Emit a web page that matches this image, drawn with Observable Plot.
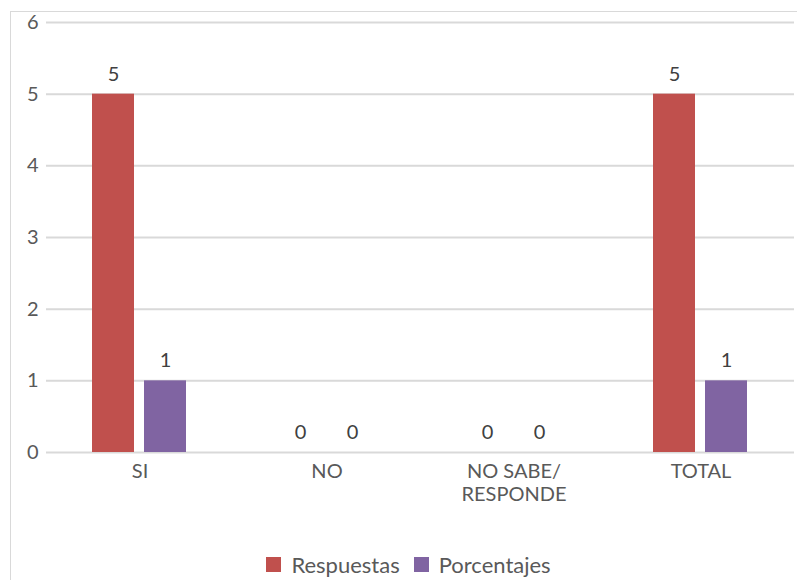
<!DOCTYPE html>
<html>
<head>
<meta charset="utf-8">
<script src="https://cdn.jsdelivr.net/npm/d3@7"></script>
<script src="https://cdn.jsdelivr.net/npm/@observablehq/plot@0.6"></script>
<style>
  html, body { margin: 0; padding: 0; background: #fff; overflow: hidden; width: 797px; height: 580px; }
  #frame { position: absolute; left: 10px; top: 11px; width: 800px; height: 600px; border: 1px solid #d9d9d9; box-sizing: border-box; }
  #chart { position: absolute; left: 0; top: 0; }
  #legend { position: absolute; left: 10px; top: 550px; width: 797px; text-align: center; font-family: Lato, "Noto Sans", sans-serif; font-size: 22px; line-height: 28px; color: #595959; }
  .item { display: inline-flex; align-items: center; margin: 0 7px; }
  .sw { display: inline-block; width: 15px; height: 15px; margin-right: 10px; }
</style>
</head>
<body>
<div id="frame"></div>
<div id="chart"></div>
<div id="legend"></div>
<script>
const categories = ["SI", "NO", "NO SABE/\nRESPONDE", "TOTAL"];
const series = ["Respuestas", "Porcentajes"];
const respuestas = [5, 0, 0, 5];
const porcentajes = [1, 0, 0, 1];
const yTicks = [0, 1, 2, 3, 4, 5, 6];
const colors = ["#C0504D", "#8064A2"];

const data = [];
categories.forEach((c, i) => {
  data.push({cat: c, serie: series[0], value: respuestas[i]});
  data.push({cat: c, serie: series[1], value: porcentajes[i]});
});

const font = 'Lato, "Noto Sans", sans-serif';
const chart = Plot.plot({
  width: 797,
  height: 540,
  marginLeft: 45,
  marginRight: 3,
  marginTop: 22,
  marginBottom: 88,
  style: {fontFamily: font, fontSize: "20px", color: "#595959", background: "transparent"},
  fx: {domain: categories, paddingInner: 0, paddingOuter: 0, label: null},
  x: {domain: series, paddingInner: 0.189, paddingOuter: 0.863, axis: null},
  y: {domain: [0, 6], ticks: yTicks, label: null},
  color: {domain: series, range: colors},
  marks: [
    Plot.ruleY(yTicks, {stroke: "#d9d9d9", strokeWidth: 2}),
    Plot.barY(data, {fx: "cat", x: "serie", y: "value", fill: "serie"}),
    Plot.text(data, {fx: "cat", x: "serie", y: "value", text: d => String(d.value), dy: -20, fill: "#404040", fontSize: 20}),
    Plot.axisY(yTicks, {tickSize: 0, tickPadding: 8, fontSize: 20, fill: "#595959", tickFormat: "d"}),
    Plot.axisFx({anchor: "bottom", tickSize: 0, tickPadding: 10, fontSize: 20, fill: "#595959", label: null, lineHeight: 1.12})
  ]
});
document.getElementById("chart").appendChild(chart);

const legend = document.getElementById("legend");
series.forEach((s, i) => {
  const item = document.createElement("span");
  item.className = "item";
  const sw = document.createElement("span");
  sw.className = "sw";
  sw.style.background = colors[i];
  item.appendChild(sw);
  item.appendChild(document.createTextNode(s));
  legend.appendChild(item);
});
</script>
</body>
</html>
